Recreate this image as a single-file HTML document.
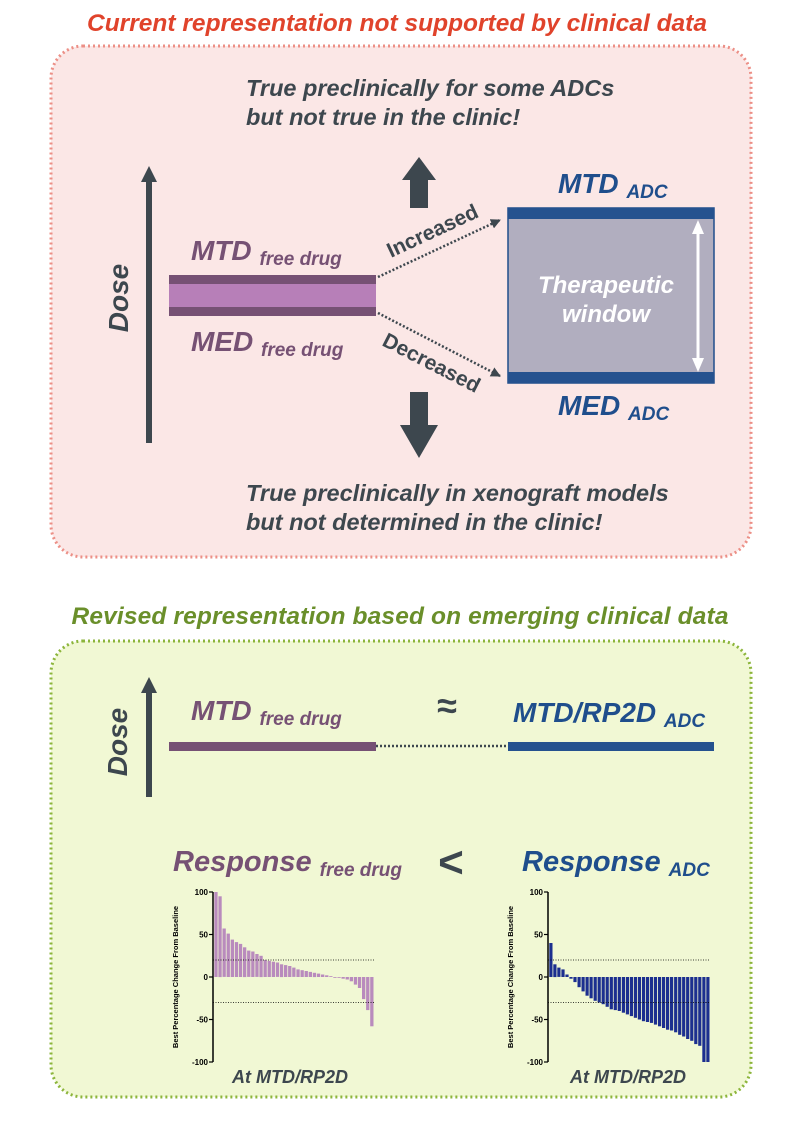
<!DOCTYPE html>
<html><head><meta charset="utf-8"><style>
body{margin:0;background:#fff;}
svg{display:block;font-family:"Liberation Sans",sans-serif;}
</style></head><body>
<svg id="s" width="795" height="1125" viewBox="0 0 795 1125" xmlns="http://www.w3.org/2000/svg">
<defs>
<marker id="ah" viewBox="0 0 10 10" refX="9" refY="5" markerWidth="4" markerHeight="4" orient="auto"><path d="M0,0L10,5L0,10z" fill="#3d474e"/></marker>
</defs>
<text x="397" y="31" text-anchor="middle" font-size="24.5" font-weight="bold" font-style="italic" fill="#e0432b" textLength="620">Current representation not supported by clinical data</text>
<rect x="51" y="46" width="700" height="511" rx="32" fill="#fbe7e6" stroke="#ec8f86" stroke-width="3" stroke-dasharray="2,3"/>
<g font-weight="bold" font-style="italic" fill="#3d474e" font-size="23.5">
<text x="246" y="96">True preclinically for some ADCs</text>
<text x="246" y="125">but not true in the clinic!</text>
<text x="246" y="501">True preclinically in xenograft models</text>
<text x="246" y="530">but not determined in the clinic!</text>
</g>
<line x1="149" y1="443" x2="149" y2="180" stroke="#3d474e" stroke-width="6"/>
<path d="M141,182L149,166L157,182z" fill="#3d474e"/>
<text transform="translate(128,298) rotate(-90)" text-anchor="middle" font-size="28" font-weight="bold" font-style="italic" fill="#3d474e">Dose</text>
<rect x="410" y="178" width="18" height="30" fill="#3d474e"/><path d="M402,180L419,157L436,180z" fill="#3d474e"/>
<rect x="410" y="392" width="18" height="34" fill="#3d474e"/><path d="M400,425L419,458L438,425z" fill="#3d474e"/>
<rect x="169" y="275" width="207" height="41" fill="#b77fb8"/>
<rect x="169" y="275" width="207" height="9" fill="#765174"/>
<rect x="169" y="307" width="207" height="9" fill="#765174"/>
<g font-weight="bold" font-style="italic" fill="#765174">
<text x="191" y="260" font-size="28">MTD <tspan font-size="19" dy="5">free drug</tspan></text>
<text x="191" y="351" font-size="28">MED <tspan font-size="19" dy="5">free drug</tspan></text>
</g>
<line x1="378" y1="277" x2="500" y2="220" stroke="#3d474e" stroke-width="2.5" stroke-dasharray="2,2" marker-end="url(#ah)"/>
<line x1="378" y1="313" x2="500" y2="376" stroke="#3d474e" stroke-width="2.5" stroke-dasharray="2,2" marker-end="url(#ah)"/>
<text transform="translate(391,258) rotate(-25)" font-size="21" font-weight="bold" fill="#3d474e">Increased</text>
<text transform="translate(381,345) rotate(27)" font-size="21" font-weight="bold" fill="#3d474e">Decreased</text>
<rect x="508" y="208" width="206" height="175" fill="#b1aebf" stroke="#1f4e8c" stroke-width="1.5"/>
<rect x="508" y="208" width="206" height="11" fill="#25528f"/>
<rect x="508" y="372" width="206" height="11" fill="#25528f"/>
<line x1="698" y1="230" x2="698" y2="362" stroke="#fff" stroke-width="3"/>
<path d="M692,234L698,220L704,234z M692,358L698,372L704,358z" fill="#fff"/>
<g font-weight="bold" font-style="italic" fill="#fff" font-size="24" text-anchor="middle">
<text x="606" y="293">Therapeutic</text><text x="606" y="322">window</text></g>
<g font-weight="bold" font-style="italic" fill="#1f4e8c">
<text x="558" y="193" font-size="28">MTD <tspan font-size="19" dy="5">ADC</tspan></text>
<text x="558" y="415" font-size="28">MED <tspan font-size="19" dy="5">ADC</tspan></text>
</g>
<text x="400" y="624" text-anchor="middle" font-size="24.5" font-weight="bold" font-style="italic" fill="#6a8f2a" textLength="657">Revised representation based on emerging clinical data</text>
<rect x="51" y="641" width="700" height="456" rx="32" fill="#f1f8d4" stroke="#8cb53b" stroke-width="3" stroke-dasharray="2,3"/>
<line x1="149" y1="797" x2="149" y2="690" stroke="#3d474e" stroke-width="6"/>
<path d="M141,693L149,677L157,693z" fill="#3d474e"/>
<text transform="translate(127,742) rotate(-90)" text-anchor="middle" font-size="28" font-weight="bold" font-style="italic" fill="#3d474e">Dose</text>
<text x="191" y="720" font-size="28" font-weight="bold" font-style="italic" fill="#765174">MTD <tspan font-size="19" dy="5">free drug</tspan></text>
<text x="447" y="718" text-anchor="middle" font-size="36" font-weight="bold" fill="#3d474e">≈</text>
<text x="513" y="722" font-size="28" font-weight="bold" font-style="italic" fill="#1f4e8c">MTD/RP2D <tspan font-size="19" dy="5">ADC</tspan></text>
<rect x="169" y="742" width="207" height="9" fill="#765174"/>
<line x1="376" y1="746" x2="508" y2="746" stroke="#3d474e" stroke-width="2.5" stroke-dasharray="2,2"/>
<rect x="508" y="742" width="206" height="9" fill="#25528f"/>
<text x="173" y="871" font-size="29" font-weight="bold" font-style="italic" fill="#765174">Response <tspan font-size="19" dy="5">free drug</tspan></text>
<text x="451" y="877" text-anchor="middle" font-size="44" font-weight="bold" fill="#3d474e">&lt;</text>
<text x="522" y="871" font-size="29" font-weight="bold" font-style="italic" fill="#1f4e8c">Response <tspan font-size="19" dy="5">ADC</tspan></text>
<g id="c1"></g><g id="c2"></g>
<g font-weight="bold" font-style="italic" fill="#3d474e" font-size="18" text-anchor="middle">
<text x="290" y="1083">At MTD/RP2D</text><text x="628" y="1083">At MTD/RP2D</text></g>
</svg>
<script>
function chart(id,ax,x0,x1,vals,col){
 var g=document.getElementById(id),h='',y0=977,k=0.85;
 h+='<line x1="'+ax+'" y1="892" x2="'+ax+'" y2="1062" stroke="#000" stroke-width="1.5"/>';
 [100,50,0,-50,-100].forEach(function(v){var y=y0-v*k;h+='<line x1="'+(ax-4)+'" y1="'+y+'" x2="'+ax+'" y2="'+y+'" stroke="#000" stroke-width="1.2"/><text x="'+(ax-5)+'" y="'+(y+3)+'" font-size="8" font-weight="bold" text-anchor="end">'+v+'</text>';});
 h+='<text transform="translate('+(ax-35)+',977) rotate(-90)" font-size="7.5" font-weight="bold" text-anchor="middle">Best Percentage Change From Baseline</text>';
 var p=(x1-x0)/vals.length;
 vals.forEach(function(v,i){var x=x0+i*p+0.3,y=v>=0?y0-v*k:y0,hh=Math.max(Math.abs(v)*k,0.8);h+='<rect x="'+x.toFixed(1)+'" y="'+y.toFixed(1)+'" width="'+(p-0.8).toFixed(1)+'" height="'+hh.toFixed(1)+'" fill="'+col+'"/>';});
 h+='<line x1="'+ax+'" y1="'+(y0-20*k)+'" x2="'+x1+'" y2="'+(y0-20*k)+'" stroke="#000" stroke-width="0.8" stroke-dasharray="1,1.5"/>';
 h+='<line x1="'+ax+'" y1="'+(y0+30*k)+'" x2="'+x1+'" y2="'+(y0+30*k)+'" stroke="#000" stroke-width="0.8" stroke-dasharray="1,1.5"/>';
 g.innerHTML=h;
}
chart('c1',213,214,374,[100,95,57,51,44,41,39,35,31,30,27,25,20,19,18,17,15,14,13,11,9,8,7,6,5,4,3,2,1,0,0,-2,-3,-5,-9,-13,-26,-39,-58],'#b98bbd');
chart('c2',548,549,710,[40,15,11,9,3,-2,-6,-12,-17,-22,-25,-28,-30,-32,-35,-38,-39,-40,-42,-44,-46,-48,-50,-52,-53,-54,-56,-58,-60,-62,-63,-65,-68,-70,-73,-75,-79,-81,-100,-100],'#1c2f8f');
</script>
</body></html>
